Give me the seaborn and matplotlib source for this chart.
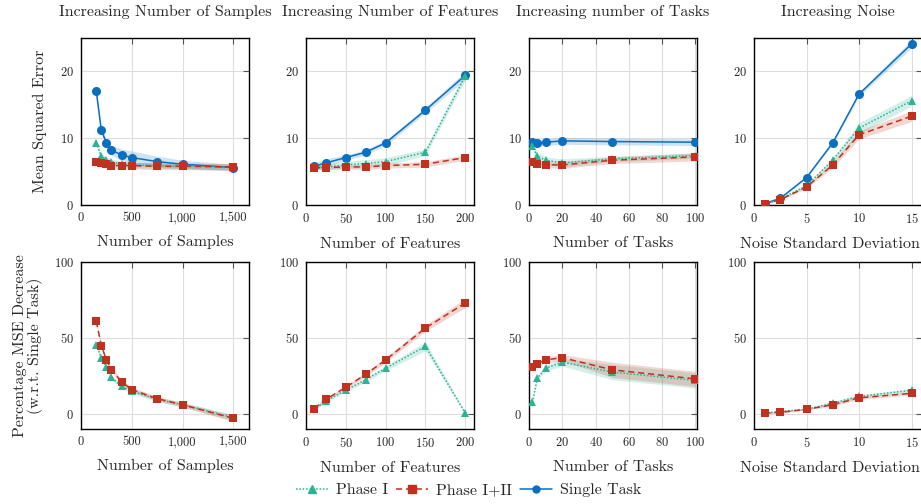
import numpy as np
import pandas as pd
import matplotlib
matplotlib.use("Agg")
import matplotlib.pyplot as plt
from matplotlib.ticker import FuncFormatter
from matplotlib.lines import Line2D
import seaborn as sns

# x values of the four experiments
samples = [150, 200, 250, 300, 400, 500, 750, 1000, 1500]
features = [10, 25, 50, 75, 100, 150, 200]
tasks = [2, 5, 10, 20, 50, 100]
noise = [1, 2.5, 5, 7.5, 10, 15]

# mean squared error
mse_samples_single = [17.1, 11.2, 9.3, 8.2, 7.5, 7.1, 6.5, 6.1, 5.6]
mse_samples_p1 = [9.3, 7.3, 6.8, 6.5, 6.1, 6.0, 5.9, 5.8, 5.7]
mse_samples_p12 = [6.4, 6.3, 6.1, 5.9, 5.9, 5.9, 5.8, 5.8, 5.7]
mse_features_single = [5.8, 6.3, 7.1, 7.9, 9.3, 14.2, 19.4]
mse_features_p1 = [5.6, 5.7, 6.0, 6.2, 6.5, 7.9, 19.3]
mse_features_p12 = [5.6, 5.6, 5.7, 5.7, 5.9, 6.1, 7.1]
mse_tasks_single = [9.5, 9.3, 9.4, 9.6, 9.5, 9.4]
mse_tasks_p1 = [8.9, 7.3, 6.7, 6.3, 6.9, 7.4]
mse_tasks_p12 = [6.5, 6.2, 6.0, 6.0, 6.7, 7.2]
mse_noise_single = [0.2, 1.0, 4.1, 9.3, 16.6, 24.1]
mse_noise_p1 = [0.2, 0.9, 2.9, 6.7, 11.5, 15.6]
mse_noise_p12 = [0.2, 0.8, 2.7, 6.0, 10.5, 13.3]

# band half widths for the mse panels
sd_samples_single = [0.3, 0.4, 0.5, 0.7, 0.9, 1.0, 0.8, 0.6, 0.5]
sd_samples_p1 = [0.4, 0.4, 0.4, 0.4, 0.4, 0.4, 0.4, 0.4, 0.4]
sd_samples_p12 = [0.5, 0.5, 0.5, 0.5, 0.5, 0.5, 0.5, 0.5, 0.5]
sd_features_single = [0.5, 0.6, 0.4, 0.4, 0.4, 0.4, 0.6]
sd_features_p1 = [0.3, 0.4, 0.5, 0.6, 0.6, 0.5, 0.6]
sd_features_p12 = [0.3, 0.3, 0.3, 0.4, 0.4, 0.4, 0.4]
sd_tasks_single = [0.5, 0.5, 0.5, 0.5, 0.5, 0.5]
sd_tasks_p1 = [0.5, 0.6, 0.5, 0.6, 0.4, 0.4]
sd_tasks_p12 = [0.5, 0.4, 0.4, 0.5, 0.5, 0.6]
sd_noise_single = [0.1, 0.1, 0.1, 0.2, 0.3, 0.6]
sd_noise_p1 = [0.1, 0.1, 0.2, 0.4, 0.8, 0.8]
sd_noise_p12 = [0.1, 0.1, 0.2, 0.4, 0.6, 0.8]

# percentage mse decrease w.r.t. single task
pct_samples_p1 = [45.5, 37, 31, 24, 18, 15, 9.5, 6, -2.5]
pct_samples_p12 = [61, 45, 35.5, 29, 21, 16, 10, 6, -3]
pct_features_p1 = [3, 8.5, 15.5, 22.5, 30, 44.5, 0.5]
pct_features_p12 = [3.5, 9.5, 17.5, 26, 35.5, 56.5, 73]
pct_tasks_p1 = [7.5, 23.5, 30, 34, 27.5, 22]
pct_tasks_p12 = [31, 33, 35.5, 37, 29, 23]
pct_noise_p1 = [0.5, 1.5, 3, 7, 11.5, 15.5]
pct_noise_p12 = [0.5, 1, 3, 6, 10.5, 13.5]

psd_samples_p1 = [1.5, 1.5, 1.5, 1.5, 1.5, 1.5, 1.5, 1.5, 2]
psd_samples_p12 = [1.5, 1.5, 1.5, 1.5, 1.5, 1.5, 1.5, 1.5, 2]
psd_features_p1 = [1, 1, 1, 1.5, 1.5, 3, 0.5]
psd_features_p12 = [1, 1, 1, 1.5, 1.5, 2, 3]
psd_tasks_p1 = [1, 1.5, 2, 2.5, 5, 5]
psd_tasks_p12 = [1, 1, 2, 2, 5, 5]
psd_noise_p1 = [0.5, 0.5, 0.5, 1, 1, 1]
psd_noise_p12 = [0.5, 0.5, 0.5, 1, 1, 1]

titles = ["Increasing Number of Samples", "Increasing Number of Features",
          "Increasing number of Tasks", "Increasing Noise"]
xlabels = ["Number of Samples", "Number of Features", "Number of Tasks",
           "Noise Standard Deviation"]
xlims = [(0, 1655), (0, 211), (0, 101), (0, 16)]
xticks = [[0, 500, 1000, 1500], [0, 50, 100, 150, 200],
          [0, 20, 40, 60, 80, 100], [0, 5, 10, 15]]

C_P1 = "#2bb393"
C_P12 = "#c0321f"
C_ST = "#0a6fbe"

FS = 11.5

sns.set_style("whitegrid", {"grid.color": "#dddddd", "axes.edgecolor": "black"})
plt.rcParams["font.family"] = ["cmr10", "DejaVu Serif"]
plt.rcParams["axes.formatter.use_mathtext"] = True
plt.rcParams["mathtext.fontset"] = "cm"

fig = plt.figure(figsize=(9.21, 5.04), dpi=100)
lefts = [81, 306, 529, 754]
W, H = 921.0, 504.0
axes_top = [fig.add_axes([l / W, 1 - 205 / H, 168 / W, 167 / H]) for l in lefts]
axes_bot = [fig.add_axes([l / W, 1 - 429 / H, 168 / W, 167 / H]) for l in lefts]

mse_data = [
    (samples, mse_samples_single, sd_samples_single, mse_samples_p1, sd_samples_p1, mse_samples_p12, sd_samples_p12),
    (features, mse_features_single, sd_features_single, mse_features_p1, sd_features_p1, mse_features_p12, sd_features_p12),
    (tasks, mse_tasks_single, sd_tasks_single, mse_tasks_p1, sd_tasks_p1, mse_tasks_p12, sd_tasks_p12),
    (noise, mse_noise_single, sd_noise_single, mse_noise_p1, sd_noise_p1, mse_noise_p12, sd_noise_p12),
]
pct_data = [
    (samples, pct_samples_p1, psd_samples_p1, pct_samples_p12, psd_samples_p12),
    (features, pct_features_p1, psd_features_p1, pct_features_p12, psd_features_p12),
    (tasks, pct_tasks_p1, psd_tasks_p1, pct_tasks_p12, psd_tasks_p12),
    (noise, pct_noise_p1, psd_noise_p1, pct_noise_p12, psd_noise_p12),
]

styles = {
    "single": dict(color=C_ST, marker="o", linestyle="-", markersize=6.5, linewidth=1.1),
    "p1": dict(color=C_P1, marker="^", linestyle=(0, (1, 1.2)), markersize=6, linewidth=1.1),
    "p12": dict(color=C_P12, marker="s", linestyle=(0, (4, 2.5)), markersize=6, linewidth=1.1),
}


def draw(ax, x, y, sd, key):
    x = np.asarray(x, float)
    y = np.asarray(y, float)
    sd = np.asarray(sd, float)
    st = styles[key]
    ax.fill_between(x, y - sd, y + sd, color=st["color"], alpha=0.2, linewidth=0, zorder=1)
    df = pd.DataFrame({"x": x, "y": y})
    sns.lineplot(data=df, x="x", y="y", ax=ax, color=st["color"], marker=st["marker"],
                 linestyle=st["linestyle"], markersize=st["markersize"],
                 linewidth=st["linewidth"], markeredgewidth=0, zorder=3)


def style_axes(ax, i, ylim, yticks):
    ax.set_xlim(*xlims[i])
    ax.set_ylim(*ylim)
    ax.set_xticks(xticks[i])
    ax.set_yticks(yticks)
    ax.tick_params(direction="in", top=True, right=True, length=4, width=0.8,
                   color="#555555", labelsize=9, pad=5)
    for s in ax.spines.values():
        s.set_linewidth(1.0)
        s.set_color("black")
    ax.grid(True, color="#dddddd", linewidth=0.8)
    ax.set_axisbelow(True)
    if i == 0:
        ax.xaxis.set_major_formatter(FuncFormatter(lambda v, p: f"{v:,.0f}"))
    ax.set_xlabel(xlabels[i], fontsize=FS, labelpad=8)
    if i == 3:
        # the reference has this label shifted left so it stays in the frame
        ax.xaxis.label.set_x(0.45)
    ax.set_ylabel("")


for i, ax in enumerate(axes_top):
    x, ys, ss, y1, s1, y2, s2 = mse_data[i]
    draw(ax, x, ys, ss, "single")
    draw(ax, x, y1, s1, "p1")
    draw(ax, x, y2, s2, "p12")
    style_axes(ax, i, (0, 25), [0, 10, 20])
    ax.set_title(titles[i], fontsize=FS, pad=16)

for i, ax in enumerate(axes_bot):
    x, y1, s1, y2, s2 = pct_data[i]
    draw(ax, x, y1, s1, "p1")
    draw(ax, x, y2, s2, "p12")
    style_axes(ax, i, (-10, 100), [0, 50, 100])

axes_top[0].set_ylabel("Mean Squared Error", fontsize=FS)
axes_top[0].yaxis.set_label_coords(-0.20, 0.5)
axes_bot[0].set_ylabel("Percentage MSE Decrease\n(w.r.t. Single Task)", fontsize=FS,
                       linespacing=1.05)
axes_bot[0].yaxis.set_label_coords(-0.225, 0.5)

handles = [
    Line2D([], [], **{**styles["p1"], "markersize": 5.5}),
    Line2D([], [], **{**styles["p12"], "markersize": 5.5}),
    Line2D([], [], **{**styles["single"], "markersize": 5}),
]
fig.legend(handles, ["Phase I", "Phase I+II", "Single Task"], loc="center",
           bbox_to_anchor=(469 / W, 1 - 490 / H), ncol=3, frameon=False,
           fontsize=FS, handlelength=2.0, columnspacing=0.5, handletextpad=0.5)

fig.savefig("out.png", dpi=100)
